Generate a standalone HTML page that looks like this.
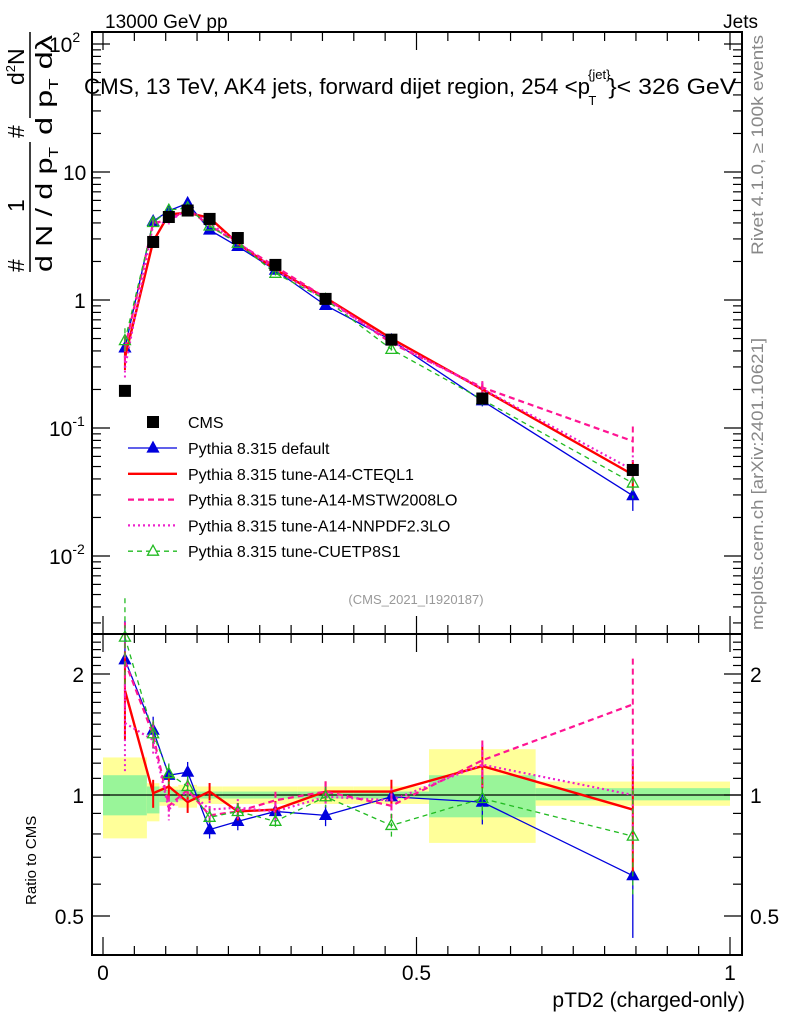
<!DOCTYPE html>
<html><head><meta charset="utf-8">
<style>
body{margin:0;background:#fff;}
svg{display:block;font-family:"Liberation Sans",sans-serif;}
</style></head>
<body>
<svg id="chart" width="786" height="1024" viewBox="0 0 786 1024" xmlns="http://www.w3.org/2000/svg">
<g id="bands"></g>
<g id="marks"></g>
<g id="axes"></g>
<text x="105" y="28" font-size="19">13000 GeV pp</text>
<text x="758" y="28" font-size="19" text-anchor="end">Jets</text>
<text x="84" y="94" font-size="22"><tspan textLength="506" lengthAdjust="spacingAndGlyphs">CMS, 13 TeV, AK4 jets, forward dijet region, 254 &lt;p</tspan><tspan font-size="13" dy="-15" dx="-2">{jet}</tspan><tspan font-size="13" dx="-22" dy="26">T</tspan><tspan dy="-11" dx="12" textLength="128" lengthAdjust="spacingAndGlyphs">}&lt; 326 GeV</tspan></text>
<text transform="translate(763,255) rotate(-90)" font-size="17" fill="#888" textLength="220" lengthAdjust="spacingAndGlyphs">Rivet 4.1.0, ≥ 100k events</text>
<text transform="translate(763,630) rotate(-90)" font-size="17" fill="#888" textLength="292" lengthAdjust="spacingAndGlyphs">mcplots.cern.ch [arXiv:2401.10621]</text>
<text x="416" y="604" font-size="13" fill="#999" text-anchor="middle">(CMS_2021_I1920187)</text>
<g font-size="23">
<text transform="translate(24,272) rotate(-90)">#</text>
<text transform="translate(24,212) rotate(-90)">1</text>
<line x1="30" y1="142" x2="30" y2="272" stroke="#000" stroke-width="1.5"/>
<text transform="translate(52,272) rotate(-90)" textLength="125" lengthAdjust="spacingAndGlyphs">d N / d p<tspan font-size="13" dy="6">T</tspan></text>
<text transform="translate(24,138) rotate(-90)">#</text>
<line x1="30" y1="32" x2="30" y2="118" stroke="#000" stroke-width="1.5"/>
<text transform="translate(24,85) rotate(-90)">d<tspan font-size="13" dy="-9">2</tspan><tspan dy="9">N</tspan></text>
<text transform="translate(52,135) rotate(-90)" textLength="100" lengthAdjust="spacingAndGlyphs">d p<tspan font-size="13" dy="6">T</tspan><tspan dy="-6">  dλ</tspan></text>
</g>
<text transform="translate(36,905) rotate(-90)" font-size="15">Ratio to CMS</text>
<text x="745" y="1007" font-size="21" text-anchor="end">pTD2 (charged-only)</text>
<g id="legend"></g>
</svg>
<script>
const xCenters = [0.035,0.08,0.105,0.135,0.17,0.215,0.275,0.355,0.46,0.605,0.845];
const binEdges = [0,0.07,0.09,0.12,0.15,0.19,0.24,0.31,0.40,0.52,0.69,1.0];
const cmsValues = [0.195,2.84,4.45,5.0,4.3,3.05,1.88,1.02,0.49,0.17,0.047];
const ratioDefault = [2.17,1.45,1.12,1.14,0.82,0.86,0.91,0.89,0.99,0.96,0.63];
const ratioCTEQ = [1.82,1.01,1.05,0.96,1.02,0.91,0.92,1.02,1.02,1.18,0.92];
const ratioMSTW = [2.15,1.41,0.94,1.03,0.89,0.91,0.97,1.02,0.94,1.22,1.68];
const ratioNNPDF = [1.51,1.37,0.92,1.03,0.92,0.93,0.91,0.99,0.97,1.19,1.0];
const ratioCUETP = [2.47,1.42,1.13,1.05,0.88,0.91,0.86,0.99,0.84,0.98,0.79];
const ratioErr = [0.25,0.08,0.06,0.06,0.05,0.05,0.05,0.06,0.07,0.12,0.3];
const yellowHi = [1.24,1.07,1.05,1.06,1.05,1.05,1.05,1.05,1.05,1.30,1.08];
const yellowLo = [0.78,0.86,0.94,0.93,0.95,0.95,0.95,0.95,0.95,0.76,0.94];
const greenHi = [1.12,1.05,1.03,1.03,1.02,1.02,1.02,1.02,1.02,1.12,1.04];
const greenLo = [0.89,0.90,0.96,0.97,0.98,0.98,0.98,0.98,0.98,0.88,0.97];
const mainTicks = ["10^-2","10^-1","1","10","10^2"];
const xTickLabels = ["0","0.5","1"];

const NS="http://www.w3.org/2000/svg";
const L=92,R=742,T=32,MB=634,RB=955;
const X=v=>103+627*v;
const Y=v=>300-128*Math.log10(v);
const YR=r=>795-121*Math.log2(r);
function mk(tag,attrs,parent){const e=document.createElementNS(NS,tag);for(const k in attrs)e.setAttribute(k,attrs[k]);parent.appendChild(e);return e;}
const bands=document.getElementById('bands'),marks=document.getElementById('marks'),axes=document.getElementById('axes'),legend=document.getElementById('legend');

for(let i=0;i<binEdges.length-1;i++){
  const x1=X(binEdges[i]),x2=X(binEdges[i+1]);
  const yb=mk('rect',{x:x1,y:YR(yellowHi[i]),width:x2-x1,height:YR(yellowLo[i])-YR(yellowHi[i]),fill:'#ffff99'},bands);
  
  
  const gb=mk('rect',{x:x1,y:YR(greenHi[i]),width:x2-x1,height:YR(greenLo[i])-YR(greenHi[i]),fill:'#99f599'},bands);
  
  
}
const rl=mk('line',{x1:L,y1:YR(1),x2:R,y2:YR(1),stroke:'#000','stroke-width':1.2},bands);



const series=[
 {name:'default',r:ratioDefault,color:'#0000dd',w:1.3,dash:'',marker:'tri-fill'},
 {name:'cteql1',r:ratioCTEQ,color:'#ff0000',w:2.4,dash:'',marker:''},
 {name:'mstw2008lo',r:ratioMSTW,color:'#ff1493',w:2.2,dash:'6,4',marker:''},
 {name:'nnpdf23lo',r:ratioNNPDF,color:'#ee22cc',w:2.2,dash:'2,3',marker:''},
 {name:'cuetp8s1',r:ratioCUETP,color:'#22bb22',w:1.3,dash:'5,4',marker:'tri-open'}
];
function tri(g,x,y,s,fill,color){const p=mk('polygon',{points:`${x},${y-6} ${x-5.5},${y+4} ${x+5.5},${y+4}`,fill:fill?color:'none',stroke:color,'stroke-width':1.3},g);return p;}
series.forEach(s=>{
  const g=mk('g',{},marks);
  
  
  const mainPts=xCenters.map((x,i)=>X(x)+','+Y(cmsValues[i]*s.r[i])).join(' ');
  const ratPts=xCenters.map((x,i)=>X(x)+','+YR(s.r[i])).join(' ');
  const l1=mk('polyline',{points:mainPts,fill:'none',stroke:s.color,'stroke-width':s.w,'stroke-dasharray':s.dash},g);
  
  
  const l2=mk('polyline',{points:ratPts,fill:'none',stroke:s.color,'stroke-width':s.w,'stroke-dasharray':s.dash},g);
  
  
  xCenters.forEach((x,i)=>{
    const r=s.r[i],e=ratioErr[i]*r;
    const eb=mk('line',{x1:X(x),x2:X(x),y1:YR(r+e),y2:YR(Math.max(r-e,0.41)),stroke:s.color,'stroke-width':s.w>2?2:1.3,'stroke-dasharray':s.dash},g);
    
    
    const v=cmsValues[i]*r;
    const em=mk('line',{x1:X(x),x2:X(x),y1:Y(v*(1+ratioErr[i])),y2:Y(v*(1-ratioErr[i]*0.8)),stroke:s.color,'stroke-width':s.w>2?2:1.3,'stroke-dasharray':s.dash},g);
    
    
    if(s.marker){
      const m1=tri(g,X(x),Y(v),6,s.marker==='tri-fill',s.color);
      
      
      const m2=tri(g,X(x),YR(r),6,s.marker==='tri-fill',s.color);
      
      
    }
  });
});
xCenters.forEach((x,i)=>{
  const sq=mk('rect',{x:X(x)-6,y:Y(cmsValues[i])-6,width:12,height:12,fill:'#000'},marks);
  
  
});

mk('rect',{x:L,y:T,width:R-L,height:MB-T,fill:'none',stroke:'#000','stroke-width':2},axes);
mk('rect',{x:L,y:MB,width:R-L,height:RB-MB,fill:'none',stroke:'#000','stroke-width':2},axes);
for(let d=-3;d<=2;d++){
  for(let k=1;k<=9;k++){
    const v=k*Math.pow(10,d),y=Y(v);
    if(y<T||y>MB)continue;
    const len=k===1?18:9;
    mk('line',{x1:L,x2:L+len,y1:y,y2:y,stroke:'#000','stroke-width':1.2},axes);
    mk('line',{x1:R,x2:R-len,y1:y,y2:y,stroke:'#000','stroke-width':1.2},axes);
  }
}
mainTicks.forEach((t,i)=>{
  const y=Y(Math.pow(10,i-2));
  const tx=mk('text',{x:i===2?74:(i===3?63:49),y:y+8,'font-size':21},axes);
  
  
  if(t.indexOf('^')>0){const p=t.split('^');tx.textContent=p[0];const sp=mk('tspan',{'font-size':14,dy:-10},tx);sp.textContent=p[1];}
  else tx.textContent=t;
});
[0.5,0.6,0.7,0.8,0.9,1,1.1,1.2,1.3,1.4,1.5,1.6,1.7,1.8,1.9,2,2.1,2.2,2.3,2.4].forEach(v=>{
  const y=YR(v); if(y<MB||y>RB)return;
  const len=(v===0.5||v===1||v===2)?18:9;
  mk('line',{x1:L,x2:L+len,y1:y,y2:y,stroke:'#000','stroke-width':1.2},axes);
  mk('line',{x1:R,x2:R-len,y1:y,y2:y,stroke:'#000','stroke-width':1.2},axes);
});
[[2,'2'],[1,'1'],[0.5,'0.5']].forEach(([v,t])=>{
  const a=mk('text',{x:84,y:YR(v)+8,'font-size':21,'text-anchor':'end'},axes);a.textContent=t;
  
  
  const b=mk('text',{x:750,y:YR(v)+8,'font-size':21},axes);b.textContent=t;
  
  
});
for(let i=0;i<=20;i++){
  const v=i*0.05,x=X(v),len=i%10===0?18:9;
  [[T,1],[MB,1],[MB,-1],[RB,-1]].forEach(([y0,dir])=>mk('line',{x1:x,x2:x,y1:y0,y2:y0+dir*len,stroke:'#000','stroke-width':1.2},axes));
}
xTickLabels.forEach((t,i)=>{
  const a=mk('text',{x:X(i*0.5),y:980,'font-size':21,'text-anchor':'middle'},axes);a.textContent=t;
  
  
});
const legNames=['Pythia 8.315 default','Pythia 8.315 tune-A14-CTEQL1','Pythia 8.315 tune-A14-MSTW2008LO','Pythia 8.315 tune-A14-NNPDF2.3LO','Pythia 8.315 tune-CUETP8S1'];
const c0=mk('rect',{x:147,y:416,width:12,height:12,fill:'#000'},legend);


const ct=mk('text',{x:188,y:428,'font-size':16},legend);ct.textContent='CMS';


series.forEach((s,i)=>{
  const y=448+i*25.8;
  mk('line',{x1:128,x2:177,y1:y,y2:y,stroke:s.color,'stroke-width':s.w,'stroke-dasharray':s.dash},legend);
  if(s.marker){const m=tri(legend,153,y,6,s.marker==='tri-fill',s.color);m.setAttribute('fill',s.marker==='tri-fill'?s.color:'#fff');}
  const t=mk('text',{x:188,y:y+6,'font-size':16},legend);t.textContent=legNames[i];
  
  
});
</script>
</body></html>
